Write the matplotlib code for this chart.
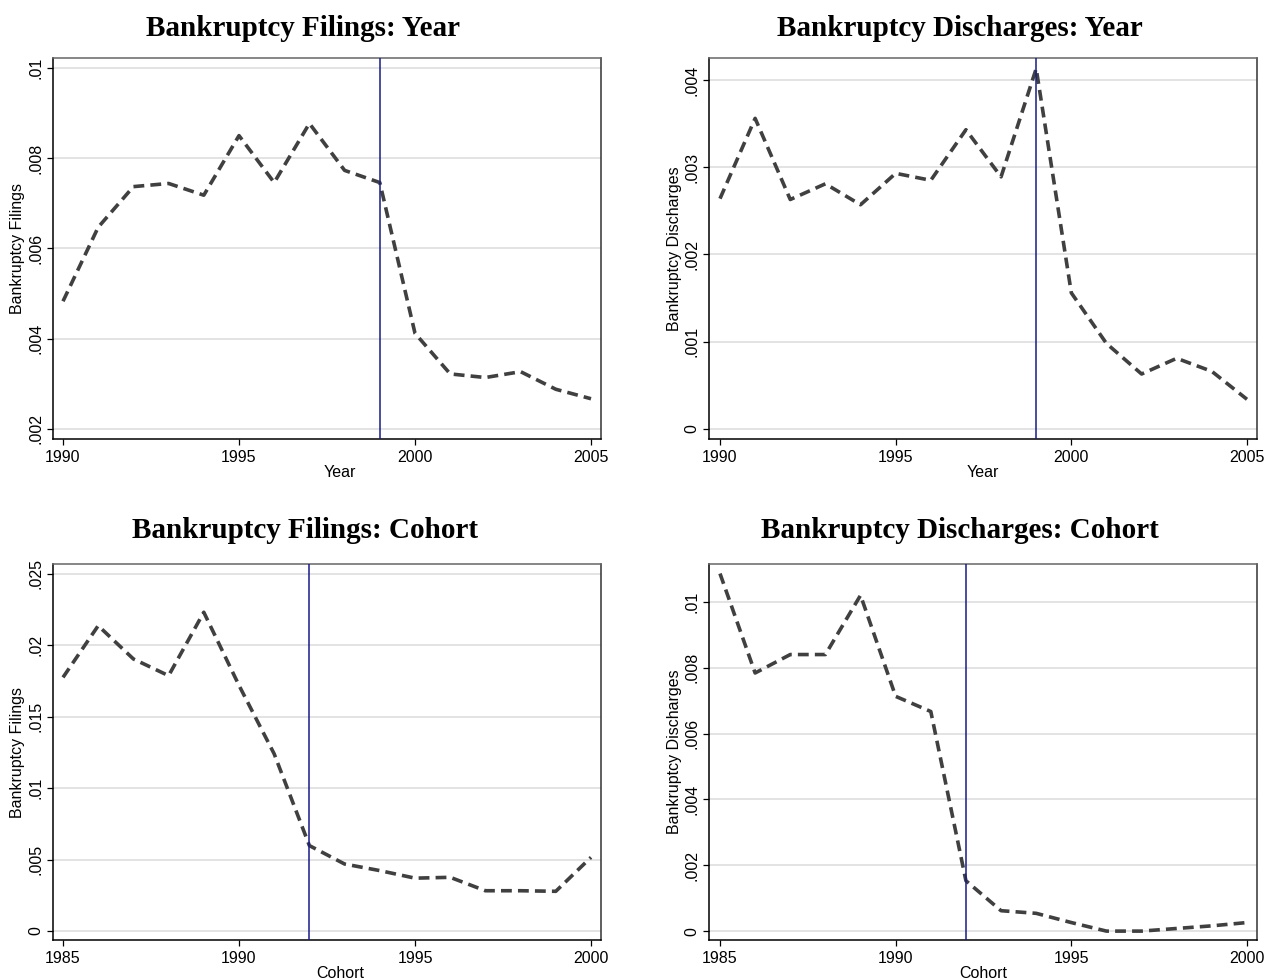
import matplotlib
matplotlib.use("Agg")
import matplotlib.pyplot as plt

# ---- data ----
years = list(range(1990, 2006))
filings_year = [0.00483, 0.00647, 0.00737, 0.00744, 0.00718, 0.00850, 0.00746, 0.00877,
                0.00773, 0.00746, 0.00412, 0.00322, 0.00314, 0.00327, 0.00288, 0.00267]
discharges_year = [0.00264, 0.00356, 0.00263, 0.00281, 0.00257, 0.00293, 0.00285, 0.00343,
                   0.00289, 0.00413, 0.00156, 0.00098, 0.00063, 0.00081, 0.00066, 0.00034]

cohorts = list(range(1985, 2001))
filings_cohort = [0.01776, 0.02138, 0.01905, 0.01788, 0.02232, 0.01720, 0.01240, 0.00598,
                  0.00469, 0.00423, 0.00370, 0.00376, 0.00282, 0.00282, 0.00278, 0.00516]
discharges_cohort = [0.01086, 0.00784, 0.00840, 0.00840, 0.01020, 0.00713, 0.00667, 0.00153,
                     0.00062, 0.00054, 0.00026, 0.00000, 0.00000, 0.00008, 0.00016, 0.00026]

cutoff_year = 1999
cutoff_cohort = 1992

titles = ["Bankruptcy Filings: Year", "Bankruptcy Discharges: Year",
          "Bankruptcy Filings: Cohort", "Bankruptcy Discharges: Cohort"]

W, H = 1266, 980
plt.rcParams["font.family"] = ["Liberation Sans", "DejaVu Sans"]

fig = plt.figure(figsize=(W / 100, H / 100), dpi=100)


def px_axes(left, top, right, bottom):
    return fig.add_axes([left / W, 1 - bottom / H, (right - left) / W, (bottom - top) / H])


def stata_panel(ax, x, y, vline, xlim, ylim, yticks, yticklabels, xticks, xlabel, ylabel, xlab_pos):
    ax.plot(x, y, color="#404040", lw=2.6, ls=(0, (3.0, 1.7)), zorder=3)
    ax.axvline(vline, color="#1a1a8c", lw=1.1, zorder=4)
    ax.set_xlim(*xlim)
    ax.set_ylim(*ylim)
    ax.set_yticks(yticks)
    ax.set_yticklabels(yticklabels, rotation=90, va="center")
    ax.set_xticks(xticks)
    ax.grid(axis="y", color="#dedede", lw=1.2, zorder=0)
    ax.tick_params(direction="out", length=4, width=0.9, labelsize=11.5, pad=4)
    ax.tick_params(axis="y", pad=3)
    for s in ax.spines.values():
        s.set_linewidth(1.1)
        s.set_color("black")
    ax.spines["top"].set_color("#666666")
    ax.spines["right"].set_color("#333333")
    ax.set_xlabel(xlabel, fontsize=11.5, labelpad=0)
    ax.set_ylabel(ylabel, fontsize=11.5, labelpad=2)
    ax.xaxis.set_label_coords(xlab_pos, -0.068)


ax1 = px_axes(53, 58, 601, 439)
stata_panel(ax1, years, filings_year, cutoff_year, (1989.716, 2005.284), (0.001778, 0.01022),
            [0.002, 0.004, 0.006, 0.008, 0.01], [".002", ".004", ".006", ".008", ".01"],
            [1990, 1995, 2000, 2005], "Year", "Bankruptcy Filings", 0.524)

ax2 = px_axes(709, 58, 1257, 439)
stata_panel(ax2, years, discharges_year, cutoff_year, (1989.687, 2005.285), (-0.000115, 0.004252),
            [0, 0.001, 0.002, 0.003, 0.004], ["0", ".001", ".002", ".003", ".004"],
            [1990, 1995, 2000, 2005], "Year", "Bankruptcy Discharges", 0.5)

ax3 = px_axes(53, 564, 601, 940)
stata_panel(ax3, cohorts, filings_cohort, cutoff_cohort, (1984.716, 2000.284), (-0.00063, 0.0257),
            [0, 0.005, 0.01, 0.015, 0.02, 0.025], ["0", ".005", ".01", ".015", ".02", ".025"],
            [1985, 1990, 1995, 2000], "Cohort", "Bankruptcy Filings", 0.524)

ax4 = px_axes(709, 564, 1257, 940)
stata_panel(ax4, cohorts, discharges_cohort, cutoff_cohort, (1984.687, 2000.285), (-0.00027, 0.01115),
            [0, 0.002, 0.004, 0.006, 0.008, 0.01], ["0", ".002", ".004", ".006", ".008", ".01"],
            [1985, 1990, 1995, 2000], "Cohort", "Bankruptcy Discharges", 0.5)

title_pos = [(303, 28), (960, 28), (305, 530), (960, 530)]
for t, (tx, ty) in zip(titles, title_pos):
    fig.text(tx / W, 1 - ty / H, t, ha="center", va="center", fontsize=21,
             fontweight="bold", family=["Liberation Serif", "DejaVu Serif"])

fig.savefig("out.png", dpi=100)
